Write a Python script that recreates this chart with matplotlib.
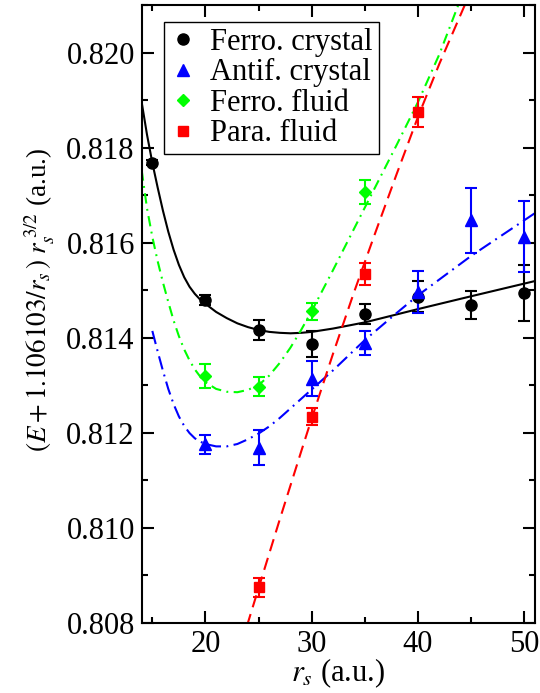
import matplotlib
matplotlib.use("Agg")
import matplotlib.pyplot as plt
from matplotlib.ticker import MultipleLocator, FormatStrFormatter

plt.rcParams['font.family'] = 'serif'
plt.rcParams['font.serif'] = ['Liberation Serif', 'STIXGeneral', 'DejaVu Serif']
plt.rcParams['mathtext.fontset'] = 'stix'

# ---------------- data ----------------
rs_fc = [15, 20, 25, 30, 35, 40, 45, 50]
E_fc = [0.81768, 0.81479, 0.81416, 0.81387, 0.81449, 0.81486, 0.81468, 0.81494]
err_fc = [0.00005, 0.00011, 0.00021, 0.00027, 0.00021, 0.00033, 0.00029, 0.00059]

rs_ac = [20, 25, 30, 35, 40, 45, 50]
E_ac = [0.81175, 0.81168, 0.81313, 0.81388, 0.81496, 0.81647, 0.81612]
err_ac = [0.00021, 0.00037, 0.00037, 0.00025, 0.00044, 0.00068, 0.00075]

rs_ff = [20, 25, 30, 35]
E_ff = [0.81319, 0.81296, 0.81455, 0.81706]
err_ff = [0.00026, 0.00020, 0.00018, 0.00025]

rs_pf = [25, 30, 35, 40]
E_pf = [0.80875, 0.81233, 0.81534, 0.81875]
err_pf = [0.00020, 0.00018, 0.00024, 0.00032]

# fitted curves
fit_fc_rs = [14, 14.5, 15, 15.5, 16, 16.5, 17, 17.5, 18, 18.5, 19, 19.5, 20, 21, 22,
             23, 24, 25, 26, 27, 28, 29, 30, 32, 35, 40, 45, 51]
fit_fc_E = [0.81895, 0.81827, 0.81768, 0.81716, 0.81667, 0.81623, 0.81585, 0.81553,
            0.81527, 0.81507, 0.81492, 0.81480, 0.81471, 0.81454, 0.81441, 0.81430,
            0.81422, 0.81416, 0.81412, 0.81410, 0.81409, 0.81410, 0.81412, 0.81419,
            0.81432, 0.81460, 0.81487, 0.81519]

fit_ac_rs = [15, 15.5, 16, 16.5, 17, 17.5, 18, 18.5, 19, 19.5, 20, 21, 22, 23, 24,
             25, 26, 27, 28, 30, 32, 35, 38, 40, 45, 51]
fit_ac_E = [0.81414, 0.81371, 0.81330, 0.81292, 0.81260, 0.81234, 0.81214, 0.81199,
            0.81188, 0.81181, 0.81176, 0.81171, 0.81171, 0.81176, 0.81186, 0.81198,
            0.81213, 0.81231, 0.81251, 0.81291, 0.81331, 0.81395, 0.81452, 0.81489,
            0.81572, 0.81662]

fit_ff_rs = [14, 14.5, 15, 15.5, 16, 16.5, 17, 17.5, 18, 18.5, 19, 19.5, 20, 21, 22,
             23, 24, 25, 26, 27, 28, 29, 30, 32, 34, 36, 38, 40, 42, 43.8]
fit_ff_E = [0.81752, 0.81672, 0.81612, 0.81561, 0.81516, 0.81475, 0.81436, 0.81403,
            0.81375, 0.81352, 0.81333, 0.81318, 0.81306, 0.81292, 0.81286, 0.81285,
            0.81290, 0.81300, 0.81320, 0.81347, 0.81379, 0.81416, 0.81456, 0.81542,
            0.81630, 0.81718, 0.81806, 0.81896, 0.81996, 0.82101]

fit_pf_rs = [23.9, 25, 27, 29, 30, 32, 34, 36, 38, 40, 42, 44.4]
fit_pf_E = [0.80793, 0.80873, 0.81018, 0.81160, 0.81230, 0.81366, 0.81497, 0.81622,
            0.81745, 0.81865, 0.81976, 0.82100]

labels = ['Ferro. crystal', 'Antif. crystal', 'Ferro. fluid', 'Para. fluid']
x_ticks = [20, 30, 40, 50]
y_ticks = [0.808, 0.810, 0.812, 0.814, 0.816, 0.818, 0.820]

# ---------------- figure ----------------
fig = plt.figure(figsize=(5.4, 6.93), dpi=100)
ax = fig.add_axes([0.2624, 0.1015, 0.7283, 0.8913])

lw = 1.5
ax.plot(fit_fc_rs, fit_fc_E, color='black', lw=lw, zorder=2)
ax.plot(fit_ac_rs, fit_ac_E, color='#0000ff', lw=lw, dashes=(6.5, 2.6, 0.9, 2.6), zorder=2)
ax.plot(fit_ff_rs, fit_ff_E, color='#00ff00', lw=lw, dashes=(5.0, 2.6, 0.9, 2.6), zorder=2)
ax.plot(fit_pf_rs, fit_pf_E, color='#ff0000', lw=lw, dashes=(6.0, 3.4), zorder=2)

ebkw = dict(linestyle='none', elinewidth=1.5, capsize=4, capthick=1.5, zorder=3)
e1 = ax.errorbar(rs_fc, E_fc, yerr=err_fc, marker='o', ms=8, color='black', **ebkw)
e2 = ax.errorbar(rs_ac, E_ac, yerr=err_ac, marker='^', ms=8, color='#0000ff', **ebkw)
e3 = ax.errorbar(rs_ff, E_ff, yerr=err_ff, marker='D', ms=6.5, color='#00ff00', **ebkw)
e4 = ax.errorbar(rs_pf, E_pf, yerr=err_pf, marker='s', ms=6.5, color='#ff0000', **ebkw)

ax.set_xlim(14, 51)
ax.set_ylim(0.808, 0.821)
ax.set_xticks(x_ticks)
ax.set_yticks(y_ticks)
ax.xaxis.set_minor_locator(MultipleLocator(5))
ax.yaxis.set_minor_locator(MultipleLocator(0.001))
ax.yaxis.set_major_formatter(FormatStrFormatter('%.3f'))
ax.tick_params(which='both', direction='in', top=True, right=True, width=1.5,
               labelsize=22)
ax.tick_params(which='major', length=8.5)
ax.tick_params(which='minor', length=4)
ax.tick_params(axis='y', pad=5)
ax.tick_params(axis='x', pad=5)
for s in ax.spines.values():
    s.set_linewidth(1.5)

ax.set_xlabel(r'$r_s$ (a.u.)', fontsize=22)
ax.xaxis.set_label_coords(0.5, -0.055)
ax.set_ylabel(r'$(E + 1.106103/r_s\,)\;r_s^{\;3/2}$ (a.u.)', fontsize=19.5)
ax.yaxis.set_label_coords(-0.215, 0.5224)

leg = ax.legend([e1[0], e2[0], e3[0], e4[0]], labels, loc='upper left',
                bbox_to_anchor=(0.0575, 0.973), borderaxespad=0, fontsize=22,
                numpoints=1, handlelength=0.8, handletextpad=0.5, borderpad=0.2,
                labelspacing=0.05, fancybox=False, framealpha=1, edgecolor='black')
leg.get_frame().set_linewidth(1.0)

fig.savefig('out.png', dpi=100)
